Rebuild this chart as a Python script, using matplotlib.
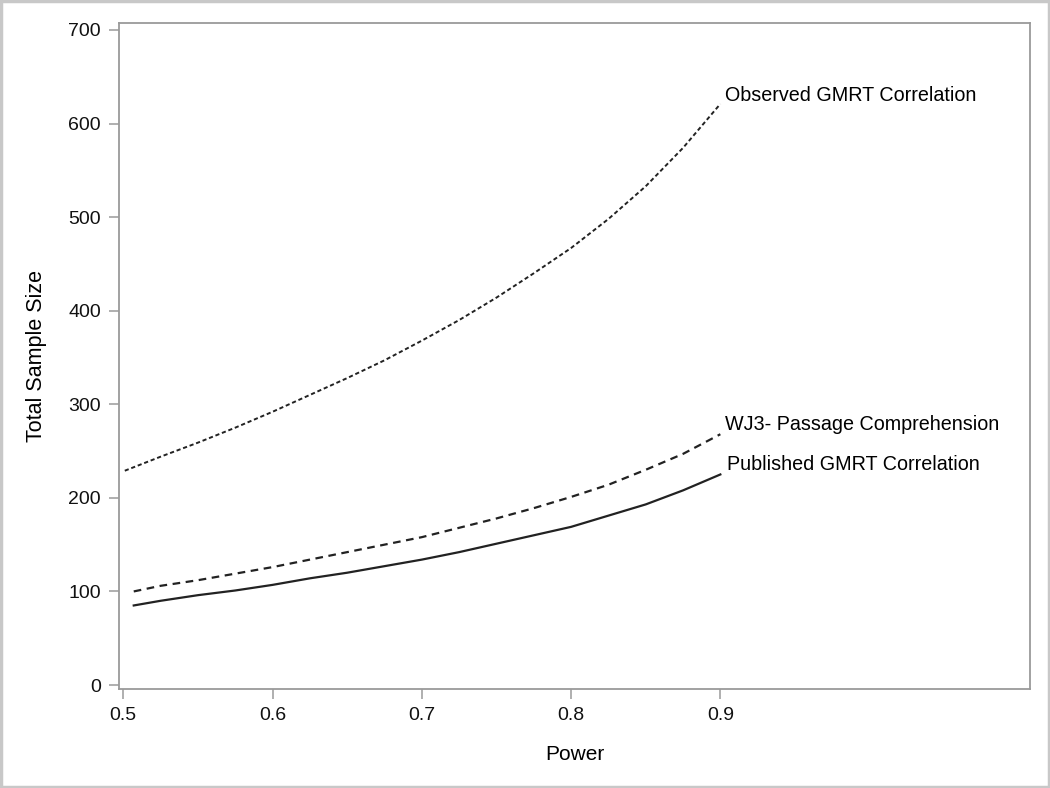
import matplotlib
matplotlib.use("Agg")
import matplotlib.pyplot as plt
from matplotlib.patches import Rectangle

# ---- data ----
obs_power = [0.501, 0.525, 0.55, 0.575, 0.6, 0.625, 0.65, 0.675, 0.7,
             0.725, 0.75, 0.775, 0.8, 0.825, 0.85, 0.875, 0.9]
obs_n = [229, 244, 259, 275, 292, 310, 328, 347, 368,
         390, 414, 440, 467, 498, 533, 574, 621]

wj3_power = [0.507, 0.525, 0.55, 0.575, 0.6, 0.625, 0.65, 0.675, 0.7,
             0.725, 0.75, 0.775, 0.8, 0.825, 0.85, 0.875, 0.9]
wj3_n = [100, 106, 112, 119, 126, 134, 142, 150, 158,
         168, 178, 189, 201, 214, 230, 247, 268]

pub_power = [0.507, 0.525, 0.55, 0.575, 0.6, 0.625, 0.65, 0.675, 0.7,
             0.725, 0.75, 0.775, 0.8, 0.825, 0.85, 0.875, 0.9]
pub_n = [85, 90, 96, 101, 107, 114, 120, 127, 134,
         142, 151, 160, 169, 181, 193, 208, 225]

labels = ["Observed GMRT Correlation", "WJ3- Passage Comprehension",
          "Published GMRT Correlation"]

plt.rcParams["font.family"] = ["Liberation Sans", "DejaVu Sans"]
plt.rcParams["lines.scale_dashes"] = False

fig = plt.figure(figsize=(10.5, 7.88), dpi=100)
ax = fig.add_axes([0.1133, 0.1256, 0.868, 0.8456])

line_col = "#222222"
ax.plot(obs_power, obs_n, color=line_col, lw=1.4, dashes=(3, 2))
ax.plot(wj3_power, wj3_n, color=line_col, lw=1.6, dashes=(5.5, 4))
ax.plot(pub_power, pub_n, color=line_col, lw=1.6)

# curve labels at the end of each line
ax.annotate(labels[0], xy=(obs_power[-1], obs_n[-1]), xytext=(3, 6),
            textcoords="offset points", va="center", ha="left", fontsize=14.2)
ax.annotate(labels[1], xy=(wj3_power[-1], wj3_n[-1]), xytext=(3, 7),
            textcoords="offset points", va="center", ha="left", fontsize=14.2)
ax.annotate(labels[2], xy=(pub_power[-1], pub_n[-1]), xytext=(5, 7),
            textcoords="offset points", va="center", ha="left", fontsize=14.2)

ax.set_xlim(0.4971, 1.1077)
ax.set_ylim(-4.3, 707.8)
ax.set_xticks([0.5, 0.6, 0.7, 0.8, 0.9])
ax.set_xticklabels(["0.5", "0.6", "0.7", "0.8", "0.9"])
ax.set_yticks(range(0, 701, 100))

spine_col = "#9a9a9a"
for s in ax.spines.values():
    s.set_color(spine_col)
    s.set_linewidth(1.3)
ax.tick_params(colors=spine_col, labelcolor="#111111", labelsize=14,
               length=7, width=1.1, pad=6)

ax.set_xlabel("Power", fontsize=15, labelpad=15)
ax.set_ylabel("Total Sample Size", fontsize=15.5, labelpad=15)

# light grey frame around the whole picture
fig.add_artist(Rectangle((0.001, 0.001), 0.998, 0.998, transform=fig.transFigure,
                         fill=False, edgecolor="#c8c8c8", lw=2.5))

fig.savefig("out.png", dpi=100, facecolor="white")
